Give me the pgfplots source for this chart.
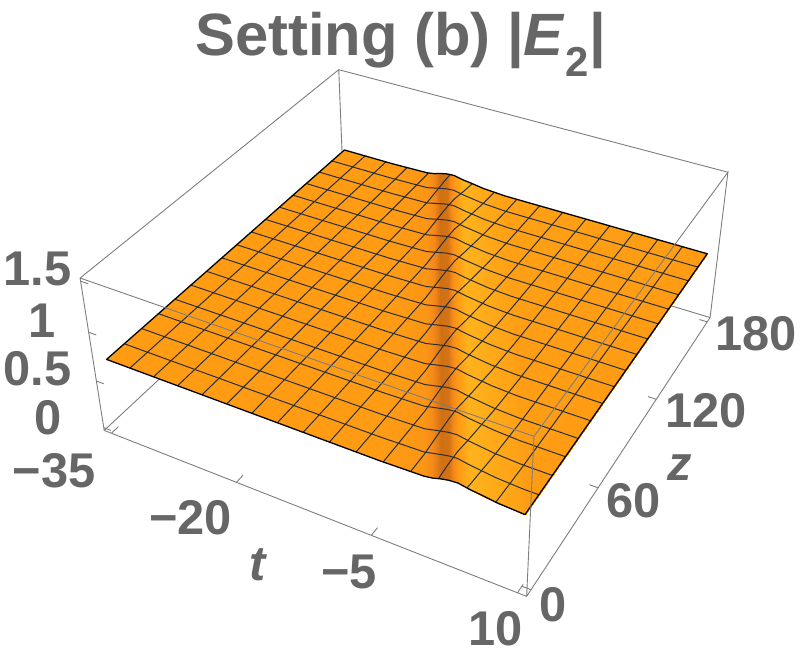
\documentclass[border=0pt]{standalone}
\usepackage{fontspec}
\setmainfont{Liberation Sans}
\usepackage{pgfplots}
\pgfplotsset{compat=1.18}
\definecolor{lab}{RGB}{102,102,102}
\definecolor{meshc}{RGB}{40,46,54}
\definecolor{boxc}{RGB}{125,125,125}
\pgfplotsset{/pgfplots/table/pj/.style={
  x expr={px(\thisrow{t},\thisrow{z},\thisrow{e})},
  y expr={py(\thisrow{t},\thisrow{z},\thisrow{e})},
  z expr=0}}
\newcommand\lbl[3]{\node[text=lab,font=\fontsize{49}{49}\selectfont\bfseries,anchor=center] at (axis cs:#1,#2,0) {#3};}
\begin{document}
\begin{tikzpicture}
\begin{axis}[
  scale only axis, width=800pt, height=662pt,
  xmin=0, xmax=800, ymin=0, ymax=662, zmin=0, zmax=1,
  view={0}{90}, hide axis, clip=false,
  declare function={
    uu(\t)=(\t+35)/45*0.9615+0.0192;
    vv(\z)=\z/180*0.9615+0.0192;
    ww(\e)=\e/1.5*0.9615+0.0192;
    dn(\t,\z,\e)=1-0.1146*uu(\t)+0.2122*vv(\z)-0.0675*ww(\e);
    px(\t,\z,\e)=(102.3+364*uu(\t)+314*vv(\z)-29.5*ww(\e))/dn(\t,\z,\e);
    py(\t,\z,\e)=662-(432.3+98.1*uu(\t)-180.3*vv(\z)-171.9*ww(\e))/dn(\t,\z,\e);
  },
  colormap={oran}{rgb255=(198,106,18) rgb255=(244,136,26) rgb255=(255,156,20) rgb255=(255,178,28)},
  point meta min=0, point meta max=3,
]
\path (axis cs:0,0,0) rectangle (axis cs:800,662,0);
% box edges behind the surface
\addplot3[boxc, line width=0.9pt, empty line=jump] table[pj] {
t z e
-35.9 -3.6 1.53
-35.9 183.6 1.53
10.9 183.6 1.53

-35.9 183.6 1.53
-35.9 183.6 -0.03
-35.9 -3.6 -0.03

-35.9 183.6 -0.03
10.9 183.6 -0.03
};
% surface
\addplot3[surf, shader=interp, point meta=\thisrow{c}] table[pj] {
t z e c
-35 0 0.7 2
-4.4 0 0.7 2
0.1 0 0.71 1.7
1 0 0.723 1
1.8 0 0.745 0.2
2.6 0 0.76 0.3
3.5 0 0.766 1.8
4.7 0 0.745 3
5.7 0 0.735 2.9
7.3 0 0.714 2.6
10 0 0.7 2.2
10 0 0.7 2

-35 180 0.7 2
-28.4 180 0.7 2
-23.9 180 0.71 1.7
-23 180 0.723 1
-22.2 180 0.745 0.2
-21.4 180 0.76 0.3
-20.5 180 0.766 1.8
-19.3 180 0.745 3
-18.3 180 0.735 2.9
-16.7 180 0.714 2.6
-14 180 0.7 2.2
10 180 0.7 2
};
% mesh lines of constant z
\addplot3[meshc, line width=1pt, empty line=jump] table[pj] {
t z e
-35 11.25 .7
-5.9 11.25 .7
-1.4 11.25 .71
.3 11.25 .745
1.1 11.25 .76
2 11.25 .766
3.2 11.25 .745
5.8 11.25 .714
8.5 11.25 .7
10 11.25 .7

-35 22.5 .7
-7.4 22.5 .7
-2.9 22.5 .71
-1.2 22.5 .745
-.4 22.5 .76
.5 22.5 .766
1.7 22.5 .745
4.3 22.5 .714
7 22.5 .7
10 22.5 .7

-35 33.75 .7
-8.9 33.75 .7
-4.4 33.75 .71
-2.7 33.75 .745
-1.9 33.75 .76
-1 33.75 .766
.2 33.75 .745
2.8 33.75 .714
5.5 33.75 .7
10 33.75 .7

-35 45 .7
-10.4 45 .7
-5.9 45 .71
-4.2 45 .745
-3.4 45 .76
-2.5 45 .766
-1.3 45 .745
1.3 45 .714
4 45 .7
10 45 .7

-35 56.25 .7
-11.9 56.25 .7
-7.4 56.25 .71
-5.7 56.25 .745
-4.9 56.25 .76
-4 56.25 .766
-2.8 56.25 .745
-.2 56.25 .714
2.5 56.25 .7
10 56.25 .7

-35 67.5 .7
-13.4 67.5 .7
-8.9 67.5 .71
-7.2 67.5 .745
-6.4 67.5 .76
-5.5 67.5 .766
-4.3 67.5 .745
-1.7 67.5 .714
1 67.5 .7
10 67.5 .7

-35 78.75 .7
-14.9 78.75 .7
-10.4 78.75 .71
-8.7 78.75 .745
-7.9 78.75 .76
-7 78.75 .766
-5.8 78.75 .745
-3.2 78.75 .714
-.5 78.75 .7
10 78.75 .7

-35 90 .7
-16.4 90 .7
-11.9 90 .71
-10.2 90 .745
-9.4 90 .76
-8.5 90 .766
-7.3 90 .745
-4.7 90 .714
-2 90 .7
10 90 .7

-35 101.25 .7
-17.9 101.25 .7
-13.4 101.25 .71
-11.7 101.25 .745
-10.9 101.25 .76
-10 101.25 .766
-8.8 101.25 .745
-6.2 101.25 .714
-3.5 101.25 .7
10 101.25 .7

-35 112.5 .7
-19.4 112.5 .7
-14.9 112.5 .71
-13.2 112.5 .745
-12.4 112.5 .76
-11.5 112.5 .766
-10.3 112.5 .745
-7.7 112.5 .714
-5 112.5 .7
10 112.5 .7

-35 123.75 .7
-20.9 123.75 .7
-16.4 123.75 .71
-14.7 123.75 .745
-13.9 123.75 .76
-13 123.75 .766
-11.8 123.75 .745
-9.2 123.75 .714
-6.5 123.75 .7
10 123.75 .7

-35 135 .7
-22.4 135 .7
-17.9 135 .71
-16.2 135 .745
-15.4 135 .76
-14.5 135 .766
-13.3 135 .745
-10.7 135 .714
-8 135 .7
10 135 .7

-35 146.25 .7
-23.9 146.25 .7
-19.4 146.25 .71
-17.7 146.25 .745
-16.9 146.25 .76
-16 146.25 .766
-14.8 146.25 .745
-12.2 146.25 .714
-9.5 146.25 .7
10 146.25 .7

-35 157.5 .7
-25.4 157.5 .7
-20.9 157.5 .71
-19.2 157.5 .745
-18.4 157.5 .76
-17.5 157.5 .766
-16.3 157.5 .745
-13.7 157.5 .714
-11 157.5 .7
10 157.5 .7

-35 168.75 .7
-26.9 168.75 .7
-22.4 168.75 .71
-20.7 168.75 .745
-19.9 168.75 .76
-19 168.75 .766
-17.8 168.75 .745
-15.2 168.75 .714
-12.5 168.75 .7
10 168.75 .7
};
% mesh lines of constant t
\addplot3[meshc, line width=1pt, empty line=jump] table[pj] {
t z e
-32.1875 0 .7
-32.1875 180 .7

-29.375 0 .7
-29.375 180 .7

-26.5625 0 .7
-26.5625 166.2 .7
-26.5625 180 .704

-23.75 0 .7
-23.75 145.1 .7
-23.75 178.9 .71
-23.75 180 .713

-20.9375 0 .7
-20.9375 124 .7
-20.9375 157.8 .71
-20.9375 170.5 .745
-20.9375 176.5 .76
-20.9375 180 .763

-18.125 0 .7
-18.125 102.9 .7
-18.125 136.7 .71
-18.125 149.4 .745
-18.125 155.4 .76
-18.125 162.2 .766
-18.125 171.2 .745
-18.125 180 .731

-15.3125 0 .7
-15.3125 81.8 .7
-15.3125 115.6 .71
-15.3125 128.3 .745
-15.3125 134.3 .76
-15.3125 141.1 .766
-15.3125 150.1 .745
-15.3125 169.6 .714
-15.3125 180 .707

-12.5 0 .7
-12.5 60.75 .7
-12.5 94.5 .71
-12.5 107.25 .745
-12.5 113.25 .76
-12.5 120 .766
-12.5 129 .745
-12.5 148.5 .714
-12.5 168.75 .7
-12.5 180 .7

-9.6875 0 .7
-9.6875 39.7 .7
-9.6875 73.4 .71
-9.6875 86.2 .745
-9.6875 92.2 .76
-9.6875 98.9 .766
-9.6875 107.9 .745
-9.6875 127.4 .714
-9.6875 147.7 .7
-9.6875 180 .7

-6.875 0 .7
-6.875 18.6 .7
-6.875 52.3 .71
-6.875 65.1 .745
-6.875 71.1 .76
-6.875 77.8 .766
-6.875 86.8 .745
-6.875 106.3 .714
-6.875 126.6 .7
-6.875 180 .7

-4.0625 0 .7
-4.0625 31.2 .71
-4.0625 44 .745
-4.0625 50 .76
-4.0625 56.7 .766
-4.0625 65.7 .745
-4.0625 85.2 .714
-4.0625 105.5 .7
-4.0625 180 .7

-1.25 0 .707
-1.25 10.1 .71
-1.25 22.9 .745
-1.25 28.9 .76
-1.25 35.6 .766
-1.25 44.6 .745
-1.25 64.1 .714
-1.25 84.4 .7
-1.25 180 .7

1.5625 0 .74
1.5625 1.8 .745
1.5625 7.8 .76
1.5625 14.5 .766
1.5625 23.5 .745
1.5625 43 .714
1.5625 63.3 .7
1.5625 180 .7

4.375 0 .751
4.375 2.5 .745
4.375 22 .714
4.375 42.2 .7
4.375 180 .7

7.1875 0 .715
7.1875 .85 .714
7.1875 21.1 .7
7.1875 180 .7
};
% surface outline
\addplot3[black, line width=1.3pt, line join=round, empty line=jump] table[pj] {
t z e
-35 180 .7
-35 0 .7
-4.4 0 .7
.1 0 .71
1 0 .723
1.8 0 .745
2.6 0 .76
3.5 0 .766
4.7 0 .745
5.7 0 .735
7.3 0 .714
10 0 .7
10 180 .7
-14 180 .7
-16.7 180 .714
-18.3 180 .735
-19.3 180 .745
-20.5 180 .766
-21.4 180 .76
-22.2 180 .745
-23 180 .723
-23.9 180 .71
-28.4 180 .7
-35 180 .7
};
% box edges in front, ticks
\addplot3[boxc, line width=0.9pt, empty line=jump] table[pj] {
t z e
-35.9 -3.6 1.53
-35.9 -3.6 -0.03
10.9 -3.6 -0.03
10.9 183.6 -0.03
10.9 183.6 1.53
10.9 -3.6 1.53
-35.9 -3.6 1.53

10.9 -3.6 -0.03
10.9 -3.6 1.53

-35 -3.6 -0.03
-35 1 -0.03

-20 -3.6 -0.03
-20 1 -0.03

-5 -3.6 -0.03
-5 1 -0.03

10 -3.6 -0.03
10 1 -0.03

10.9 0 -0.03
10 0 -0.03

10.9 60 -0.03
10 60 -0.03

10.9 120 -0.03
10 120 -0.03

10.9 180 -0.03
10 180 -0.03

-35.9 -3.6 0
-35 -3.6 0

-35.9 -3.6 .5
-35 -3.6 .5

-35.9 -3.6 1
-35 -3.6 1

-35.9 -3.6 1.5
-35 -3.6 1.5
};
\node[text=lab,font=\fontsize{60}{60}\selectfont\bfseries,anchor=base] at (axis cs:400,606,0) {Setting (b) |\textit{E}\textsubscript{2}|};
\lbl{35}{392}{1.5}
\lbl{40}{340}{1}
\lbl{35}{292}{0.5}
\lbl{46}{242}{0}
\lbl{52}{189}{−35}
\lbl{189}{142}{−20}
\lbl{348}{87}{−5}
\lbl{495}{30}{10}
\lbl{553}{55}{0}
\lbl{634}{159}{60}
\lbl{707}{249}{120}
\lbl{757}{327}{180}
\lbl{257}{95}{\textit{t}}
\lbl{680}{192}{\textit{z}}
\end{axis}
\end{tikzpicture}
\end{document}
